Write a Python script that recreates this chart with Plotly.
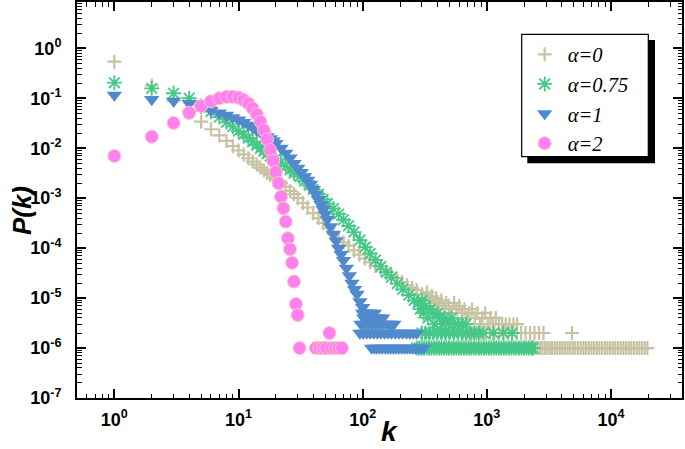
import plotly.graph_objects as go

# ---------------- data ----------------
# alpha = 0  (tan "+")
a0_k = [1, 2, 3, 4, 5, 6, 7, 8, 9, 10, 11, 12, 13, 14, 15, 16, 17, 18, 19, 20,
        22, 24, 26, 28, 30, 33, 36, 40, 44, 48, 53, 58, 64, 70, 77, 85, 94, 104,
        115, 127, 140, 155, 170, 188, 207, 228, 250, 272]
a0_p = [0.54, 0.18, 0.09, 0.055, 0.034, 0.024, 0.018, 0.014, 0.011, 0.0090,
        0.0075, 0.0063, 0.0054, 0.0047, 0.0041, 0.0036, 0.0032, 0.0029, 0.0026,
        0.0024, 0.0020, 0.0017, 0.0014, 0.0012, 0.00100, 0.00080, 0.00065,
        0.00050, 0.00040, 0.00032, 0.00025, 0.00020, 0.00016, 0.00013, 0.000112,
        0.00009, 0.000074, 0.000062, 0.000052, 0.000044, 0.000038, 0.000033,
        0.000029, 0.000025, 0.000021, 0.000018, 0.000016, 0.0000145]
a0_tail_k = [300, 315, 330, 345, 360, 375, 390, 410, 430, 450, 470, 495, 520, 545,
             570, 600, 630, 660, 690, 720, 760, 800, 840, 880, 920, 970, 1020,
             1070, 1120, 1180, 1250, 1330, 1420, 1520, 1640, 1750,
             640, 700, 760, 830, 900, 980, 1060, 1150, 1250, 1360, 1480, 1600,
             1740, 1890, 2050, 2230, 2420, 2630, 2860, 4850,
             2350, 2450, 2560, 2680, 2800, 2930, 3070, 3210, 3360, 3520, 3690,
             3870, 4060, 4260, 4470, 4690, 4920, 5160, 5420, 5700, 6000, 6300,
             6620, 6960, 7310, 7680, 8070, 8480, 8910, 9360, 9830, 10330, 10850,
             11400, 11980, 12590, 13230, 13900, 14600, 15340, 16120, 16940, 17800,
             18700, 19650]
a0_tail_p = [1.2e-5, 1.0e-5, 1.3e-5, 9e-6, 1.1e-5, 8e-6, 1.0e-5, 7e-6, 9e-6, 6e-6,
             8e-6, 7e-6, 5e-6, 8e-6, 6e-6, 7e-6, 5e-6, 6e-6, 4e-6, 5e-6, 6e-6,
             4e-6, 5e-6, 3e-6, 4e-6, 5e-6, 3e-6, 4e-6, 3e-6, 4e-6, 3e-6, 3e-6,
             3e-6, 3e-6, 3e-6, 3e-6,
             2e-6, 2e-6, 2e-6, 2e-6, 2e-6, 2e-6, 2e-6, 2e-6, 2e-6, 2e-6, 2e-6,
             2e-6, 2e-6, 2e-6, 2e-6, 2e-6, 2e-6, 2e-6, 2e-6, 2e-6,
             1e-6, 1e-6, 1e-6, 1e-6, 1e-6, 1e-6, 1e-6, 1e-6, 1e-6, 1e-6, 1e-6,
             1e-6, 1e-6, 1e-6, 1e-6, 1e-6, 1e-6, 1e-6, 1e-6, 1e-6, 1e-6, 1e-6,
             1e-6, 1e-6, 1e-6, 1e-6, 1e-6, 1e-6, 1e-6, 1e-6, 1e-6, 1e-6, 1e-6,
             1e-6, 1e-6, 1e-6, 1e-6, 1e-6, 1e-6, 1e-6, 1e-6, 1e-6, 1e-6,
             1e-6, 1e-6]

# alpha = 0.75 (green asterisk)
a75_k = [1, 2, 3, 4, 5, 6, 7, 8, 9, 10, 11, 12, 13, 14, 15, 16, 17, 18, 20, 22,
         24, 26, 28, 31, 34, 37, 40, 44, 48, 52, 58, 64, 70, 77, 85, 95, 105,
         115, 127, 140, 155, 170, 190, 210, 235, 260]
a75_p = [0.205, 0.158, 0.126, 0.100, 0.070, 0.054, 0.042, 0.033, 0.027, 0.022,
         0.019, 0.016, 0.0135, 0.0115, 0.0100, 0.0088, 0.0078, 0.0070, 0.0062,
         0.0052, 0.0044, 0.0037, 0.0032, 0.0027, 0.0022, 0.0018, 0.0015, 0.0012,
         0.00095, 0.00078, 0.00062, 0.00048, 0.00037, 0.00028, 0.00021, 0.000145,
         0.000105, 0.000078, 0.000058, 0.000043, 0.000033, 0.000026, 0.0000195,
         0.0000150, 0.0000115, 0.0000090]
a75_tail_k = [280, 290, 300, 310, 320, 335, 350, 365, 380, 400, 420, 440, 460,
              490, 520, 550, 590, 630, 680,
              300, 320, 345, 370, 400, 430, 465, 500, 540, 585, 630, 680, 735,
              795, 860, 940, 1130, 1360, 1600,
              272, 285, 298, 312, 327, 342, 358, 375, 393, 412, 431, 452, 473,
              495, 519, 543, 569, 596, 624, 654, 685, 717, 751, 787, 824, 863,
              904, 947, 992, 1039, 1088, 1140, 1194, 1250, 1310, 1372, 1437,
              1505, 1577, 1652, 1730, 1812, 1898, 1988, 2082, 2181, 2284, 2350]
a75_tail_p = [8e-6, 6e-6, 9e-6, 5e-6, 7e-6, 4e-6, 6e-6, 5e-6, 3e-6, 5e-6, 4e-6,
              3e-6, 4e-6, 3e-6, 4e-6, 3e-6, 3e-6, 3e-6, 3e-6,
              2e-6, 2e-6, 2e-6, 2e-6, 2e-6, 2e-6, 2e-6, 2e-6, 2e-6, 2e-6, 2e-6,
              2e-6, 2e-6, 2e-6, 2e-6, 2e-6, 2e-6, 2e-6, 2e-6,
              1e-6, 1e-6, 1e-6, 1e-6, 1e-6, 1e-6, 1e-6, 1e-6, 1e-6, 1e-6, 1e-6,
              1e-6, 1e-6, 1e-6, 1e-6, 1e-6, 1e-6, 1e-6, 1e-6, 1e-6, 1e-6, 1e-6,
              1e-6, 1e-6, 1e-6, 1e-6, 1e-6, 1e-6, 1e-6, 1e-6, 1e-6, 1e-6, 1e-6,
              1e-6, 1e-6, 1e-6, 1e-6, 1e-6, 1e-6, 1e-6, 1e-6, 1e-6, 1e-6, 1e-6,
              1e-6, 1e-6, 1e-6, 1e-6]

# alpha = 1 (blue triangle-down)
a1_k = [1, 2, 3, 4, 5, 6, 7, 8, 9, 10, 11, 12, 13, 14, 15, 16, 17, 18, 19, 20,
        22, 24, 26, 28, 30, 32, 34, 36, 38, 40, 42, 44, 46, 48, 50, 52, 55, 58,
        61, 64, 67, 70, 74, 78, 82, 86, 90, 95, 100, 105, 110]
a1_p = [0.116, 0.095, 0.088, 0.079, 0.065, 0.057, 0.051, 0.046, 0.041, 0.037,
        0.033, 0.029, 0.026, 0.023, 0.021, 0.019, 0.017, 0.0155, 0.014, 0.0125,
        0.0100, 0.0080, 0.0064, 0.0050, 0.0040, 0.0033, 0.0027, 0.0023, 0.0019,
        0.0015, 0.0012, 0.00095, 0.00075, 0.00060, 0.00048, 0.00038, 0.00027,
        0.00019, 0.00014, 0.00010, 0.000075, 0.000057, 0.000040, 0.000028,
        0.000020, 0.000015, 0.000012, 0.0000085, 0.0000065, 0.000005, 0.000004]
a1_tail_k = [100, 104, 108, 113, 118, 124,
             102, 108, 114, 121, 128, 136, 145,
             97, 104, 111, 119, 127, 136, 146, 157, 168, 178,
             95, 101, 108, 115, 123, 131, 140, 150, 160, 171, 183, 196, 210, 225,
             240, 256, 272,
             118, 124, 130, 137, 144, 152, 160, 168, 177, 186, 196, 206, 217, 228,
             240, 253, 266, 280, 294, 309]
a1_tail_p = [5e-6, 5e-6, 5e-6, 5e-6, 5e-6, 5e-6,
             4e-6, 4e-6, 4e-6, 4e-6, 4e-6, 4e-6, 4e-6,
             3e-6, 3e-6, 3e-6, 3e-6, 3e-6, 3e-6, 3e-6, 3e-6, 3e-6, 3e-6,
             2e-6, 2e-6, 2e-6, 2e-6, 2e-6, 2e-6, 2e-6, 2e-6, 2e-6, 2e-6, 2e-6,
             2e-6, 2e-6, 2e-6, 2e-6, 2e-6, 2e-6,
             1e-6, 1e-6, 1e-6, 1e-6, 1e-6, 1e-6, 1e-6, 1e-6, 1e-6, 1e-6, 1e-6,
             1e-6, 1e-6, 1e-6, 1e-6, 1e-6, 1e-6, 1e-6, 1e-6, 1e-6]

# alpha = 2 (pink circle)
a2_k = [1, 2, 3, 4, 5, 6, 7, 8, 9, 10, 11, 12, 13, 14, 15, 16, 17, 18, 19, 20,
        21, 22, 23, 24, 25, 26, 27, 28, 29, 30, 31, 42, 45, 48, 51, 54, 56, 60,
        64, 68]
a2_p = [0.0070, 0.017, 0.032, 0.051, 0.070, 0.087, 0.100, 0.107, 0.107, 0.103,
        0.092, 0.079, 0.063, 0.048, 0.034, 0.023, 0.015, 0.0092, 0.0056, 0.0033,
        0.0020, 0.00107, 0.00063, 0.00034, 0.000158, 0.000095, 0.000051,
        0.0000214, 0.0000076, 0.0000046, 1e-6, 1e-6, 1e-6, 1e-6, 1e-6, 2e-6,
        1e-6, 1e-6, 1e-6, 1e-6]

series_names = ["α=0", "α=0.75", "α=1", "α=2"]
x_tick_vals = [1, 10, 100, 1000, 10000]
x_tick_text = ["10<sup>0</sup>", "10<sup>1</sup>", "10<sup>2</sup>",
               "10<sup>3</sup>", "10<sup>4</sup>"]
y_tick_vals = [1e0, 1e-1, 1e-2, 1e-3, 1e-4, 1e-5, 1e-6, 1e-7]
y_tick_text = ["10<sup>0</sup>", "10<sup>-1</sup>", "10<sup>-2</sup>",
               "10<sup>-3</sup>", "10<sup>-4</sup>", "10<sup>-5</sup>",
               "10<sup>-6</sup>", "10<sup>-7</sup>"]

# ---------------- styling ----------------
TAN = "#c6c2a2"
GREEN = "#46c887"
BLUE = "#508acc"
PINK = "#ff80f0"

x_minor = [d * 10 ** n for n in range(-1, 5) for d in range(2, 10)]
y_minor = [d * 10.0 ** n for n in range(-8, 1) for d in range(2, 10)]

fig = go.Figure()
fig.add_trace(go.Scatter(
    x=a0_k + a0_tail_k, y=a0_p + a0_tail_p, mode="markers", name=series_names[0],
    marker=dict(symbol="cross-thin", size=10, color=TAN,
                line=dict(color=TAN, width=2.2))))
fig.add_trace(go.Scatter(
    x=a75_k + a75_tail_k, y=a75_p + a75_tail_p, mode="markers", name=series_names[1],
    marker=dict(symbol="asterisk-open", size=12.5, color=GREEN,
                line=dict(color=GREEN, width=1.8))))
fig.add_trace(go.Scatter(
    x=a1_k + a1_tail_k, y=a1_p + a1_tail_p, mode="markers", name=series_names[2],
    marker=dict(symbol="triangle-down", size=13.5, color=BLUE,
                line=dict(width=0))))
fig.add_trace(go.Scatter(
    x=a2_k, y=a2_p, mode="markers", name=series_names[3],
    marker=dict(symbol="circle", size=13, color=PINK,
                line=dict(color="#ffc4c4", width=1))))

axis_common = dict(
    type="log", showline=True, linewidth=2, linecolor="black", mirror="ticks",
    ticks="inside", ticklen=9, tickwidth=1.5, tickcolor="black",
    showgrid=False, zeroline=False, tickmode="array", automargin=False,
    tickfont=dict(family="Liberation Sans", size=18, color="black", weight="bold"),
)

fig.update_xaxes(
    **axis_common, range=[-0.301, 4.572], tickvals=x_tick_vals, ticktext=x_tick_text,
    ticklabelstandoff=4,
    minor=dict(tickmode="array", tickvals=x_minor, ticks="inside", ticklen=4.5,
               tickwidth=1.2, tickcolor="black", showgrid=False))
fig.update_yaxes(
    **axis_common, range=[-7, 0.927], tickvals=y_tick_vals, ticktext=y_tick_text,
    ticklabelstandoff=10,
    minor=dict(tickmode="array", tickvals=y_minor, ticks="inside", ticklen=4.5,
               tickwidth=1.2, tickcolor="black", showgrid=False))

fig.update_layout(
    width=685, height=449,
    margin=dict(l=77, r=3, t=2, b=51, autoexpand=False),
    paper_bgcolor="white", plot_bgcolor="white",
    showlegend=True,
    legend=dict(x=0.735, y=0.918, xanchor="left", yanchor="top",
                bgcolor="rgba(0,0,0,0)", borderwidth=0,
                itemwidth=36,
                font=dict(family="Liberation Serif", size=20.5, color="black",
                          style="italic")),
    shapes=[
        # drop shadow of the legend box
        dict(type="rect", xref="paper", yref="paper",
             x0=0.7443, x1=0.9554, y0=0.5927, y1=0.9040,
             fillcolor="black", line=dict(width=0), layer="above"),
        # legend box
        dict(type="rect", xref="paper", yref="paper",
             x0=0.7350, x1=0.9443, y0=0.6093, y1=0.9184,
             fillcolor="white", line=dict(color="black", width=1.2),
             layer="above"),
    ],
    annotations=[
        dict(text="P(k)", xref="paper", yref="paper", x=-0.0909, y=0.472,
             xanchor="center", yanchor="middle",
             textangle=-90, showarrow=False,
             font=dict(family="Liberation Sans", size=26, color="black",
                       weight="bold", style="italic")),
        dict(text="k", xref="paper", yref="paper", x=0.517, y=-0.085,
             xanchor="center", yanchor="middle",
             showarrow=False,
             font=dict(family="Liberation Sans", size=28, color="black",
                       weight="bold", style="italic")),
    ],
)

fig.write_html("out.html",
               config={"displayModeBar": False},
               post_script="document.body.style.margin='0';"
                           "document.body.style.overflow='hidden';")
